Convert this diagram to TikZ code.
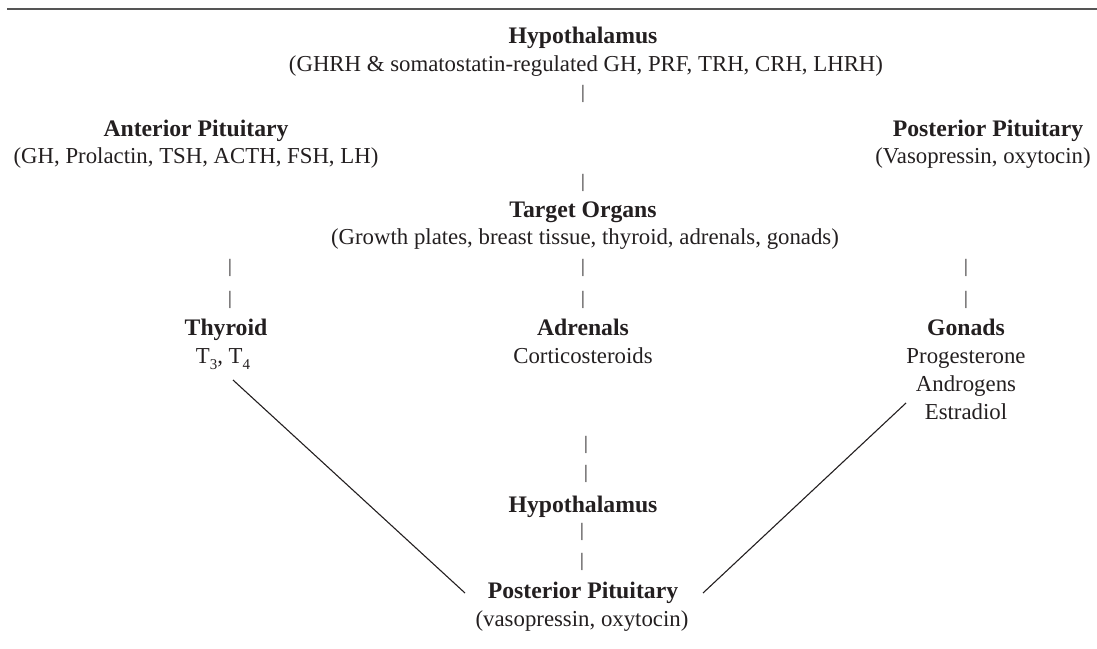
\documentclass[tikz,border=0pt]{standalone}
\usepackage{fontspec}
\setmainfont{Liberation Serif}
\definecolor{ink}{HTML}{231F20}
\definecolor{rulegray}{HTML}{555555}
\newcommand{\lowsub}[1]{\raisebox{-0.28em}{\fontsize{15}{15}\selectfont #1}}
\tikzset{
  ttl/.style={font=\fontsize{23.7}{28}\selectfont\bfseries, anchor=base, inner sep=0pt, text=ink},
  txt/.style={font=\fontsize{22.8}{28}\selectfont, anchor=base, inner sep=0pt, text=ink},
  barsym/.style={font=\fontsize{19}{22}\selectfont, anchor=center, inner sep=0pt, text=ink},
  link/.style={draw=ink, line width=1.1pt},
  toprule/.style={draw=rulegray, line width=2pt}
}
\begin{document}
\begin{tikzpicture}[x=1pt,y=-1pt]
\useasboundingbox (0,0) rectangle (1097,648);
% top rule
\coordinate (r1) at (7,8.7);
\coordinate (r2) at (1097,8.7);
\draw[toprule] (r1) -- (r2);

% top Hypothalamus
\node[ttl] (hyp1) at (583,43.3) {Hypothalamus};
\node[txt] (hyp1b) at (586,71.7) {(GHRH \& somatostatin-regulated GH, PRF, TRH, CRH, LHRH)};
\node[barsym] (b1) at (583,94) {|};

% Anterior pituitary
\node[ttl] (ant) at (196,136) {Anterior Pituitary};
\node[txt] (antb) at (196,163) {(GH, Prolactin, TSH, ACTH, FSH, LH)};

% Posterior pituitary (upper)
\node[ttl] (post1) at (988,136) {Posterior Pituitary};
\node[txt] (post1b) at (983,163) {(Vasopressin, oxytocin)};

\node[barsym] (b2) at (583,183) {|};

% Target organs
\node[ttl] (tgt) at (583,217) {Target Organs};
\node[txt] (tgtb) at (585,244.5) {(Growth plates, breast tissue, thyroid, adrenals, gonads)};

\node[barsym] (b3l) at (230,267.5) {|};
\node[barsym] (b4l) at (230,299.5) {|};
\node[barsym] (b3c) at (583,267.5) {|};
\node[barsym] (b4c) at (583,299.5) {|};
\node[barsym] (b3r) at (966,267.5) {|};
\node[barsym] (b4r) at (966,299.5) {|};

% Thyroid
\node[ttl] (thy) at (226,335.5) {Thyroid};
\node[txt] (thyb) at (223,363.5) {T\lowsub{3}, T\lowsub{4}};

% Adrenals
\node[ttl] (adr) at (583,335.5) {Adrenals};
\node[txt] (adrb) at (583,363.5) {Corticosteroids};

% Gonads
\node[ttl] (gon) at (966,335.5) {Gonads};
\node[txt] (gon1) at (966,363.5) {Progesterone};
\node[txt] (gon2) at (966,391.5) {Androgens};
\node[txt] (gon3) at (966,419.5) {Estradiol};

\node[barsym] (b5) at (586,445) {|};
\node[barsym] (b6) at (586,473.5) {|};

% lower Hypothalamus
\node[ttl] (hyp2) at (583,512) {Hypothalamus};
\node[barsym] (b7) at (582,532) {|};
\node[barsym] (b8) at (582,562) {|};

% lower Posterior pituitary
\node[ttl] (post2) at (583,598) {Posterior Pituitary};
\node[txt] (post2b) at (582,626.5) {(vasopressin, oxytocin)};

% diagonal links
\coordinate (thyend) at (233,380);
\coordinate (gonend) at (906,403);
\coordinate (ppl) at (465,593);
\coordinate (ppr) at (703,593);
\draw[link] (thyend) -- (ppl);
\draw[link] (gonend) -- (ppr);
\end{tikzpicture}
\end{document}
